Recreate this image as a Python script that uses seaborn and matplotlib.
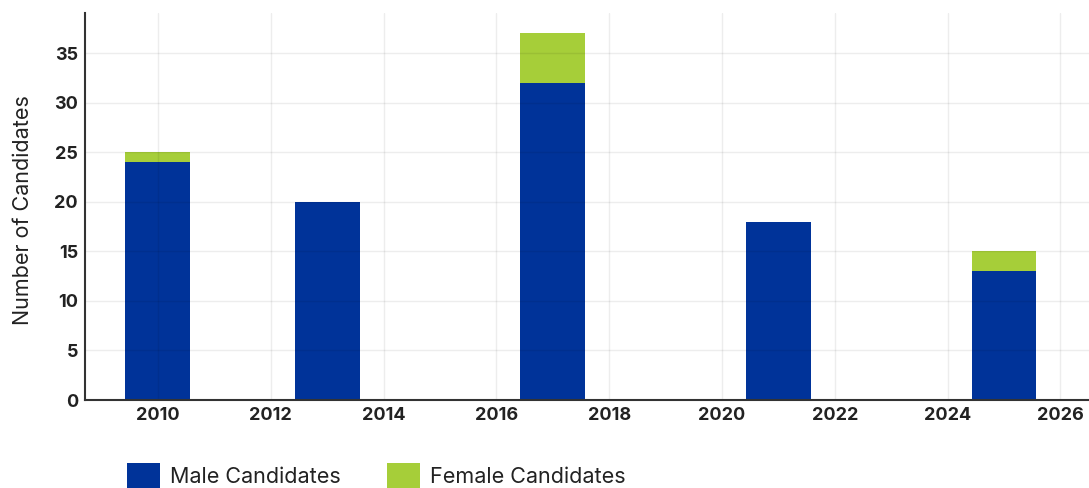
import numpy as np
import pandas as pd
import matplotlib
matplotlib.use("Agg")
import matplotlib.pyplot as plt
from matplotlib.patches import Patch
import seaborn as sns

# Candidates per election year
years = [2010, 2013, 2017, 2021, 2025]
male = [24, 20, 32, 18, 13]
female = [1, 0, 5, 0, 2]
series_labels = ["Male Candidates", "Female Candidates"]
xticks = list(range(2010, 2027, 2))
yticks = [0, 5, 10, 15, 20, 25, 30, 35]

MALE_COLOR = "#003399"
FEMALE_COLOR = "#A6CE39"
TEXT_COLOR = "#222222"

sns.set_theme(style="white")
plt.rcParams["font.family"] = ["Inter", "DejaVu Sans"]

df = pd.DataFrame({"year": years, "male": male, "female": female})
df["total"] = df["male"] + df["female"]

fig = plt.figure(figsize=(10.89, 4.88), dpi=100)
ax = fig.add_axes([0.078, 0.1803, 0.922, 0.7937])

# bar width of about 1.15 years on the native numeric scale
bar_years = 1.15
rel_width = bar_years / np.diff(sorted(years)).min()

# stacked: total (green) behind, male (blue) on top
sns.barplot(data=df, x="year", y="total", native_scale=True, width=rel_width,
            color=FEMALE_COLOR, saturation=1, linewidth=0, edgecolor="none",
            ax=ax, zorder=2)
sns.barplot(data=df, x="year", y="male", native_scale=True, width=rel_width,
            color=MALE_COLOR, saturation=1, linewidth=0, edgecolor="none",
            ax=ax, zorder=2)

ax.set_xlim(2008.706, 2026.507)
ax.set_ylim(0, 39.1)
ax.set_xticks(xticks)
ax.set_xticklabels([str(t) for t in xticks])
ax.set_yticks(yticks)

ax.grid(True, color="#000000", alpha=0.07, linewidth=1.0, zorder=3)
ax.set_axisbelow(False)

for side in ["top", "right"]:
    ax.spines[side].set_visible(False)
for side in ["left", "bottom"]:
    ax.spines[side].set_color("#333333")
    ax.spines[side].set_linewidth(1.5)
    ax.spines[side].set_zorder(4)

ax.tick_params(axis="both", length=0, labelsize=13, colors=TEXT_COLOR)
ax.tick_params(axis="y", pad=5)
ax.tick_params(axis="x", pad=5)
for lab in ax.get_xticklabels() + ax.get_yticklabels():
    lab.set_fontweight("bold")

ax.set_xlabel("")
ax.set_ylabel("Number of Candidates", fontsize=15.5, color=TEXT_COLOR)
ax.yaxis.set_label_coords(-0.052, 0.49)

handles = [Patch(facecolor=MALE_COLOR, edgecolor="none"),
           Patch(facecolor=FEMALE_COLOR, edgecolor="none")]
fig.legend(handles, series_labels, loc="center left",
           bbox_to_anchor=(0.1166, 0.024), ncol=2, frameon=False,
           fontsize=15.5, handlelength=1.53, handleheight=1.53,
           handletextpad=0.47, columnspacing=2.15, borderpad=0,
           borderaxespad=0, labelcolor=TEXT_COLOR)

fig.savefig("out.png", dpi=100)
